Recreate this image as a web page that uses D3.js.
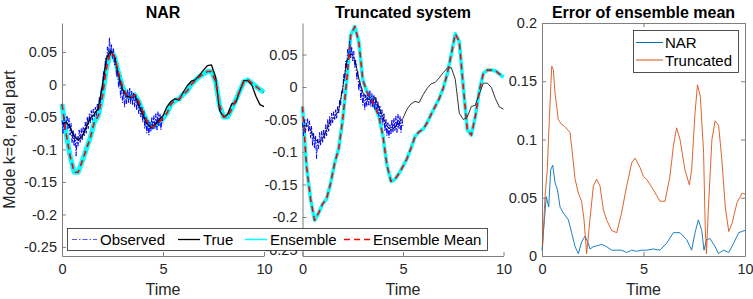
<!DOCTYPE html>
<html>
<head>
<meta charset="utf-8">
<script src="https://cdn.jsdelivr.net/npm/d3@7"></script>
<style>
  body { margin: 0; background: #fff; }
  svg { display: block; }
  text { font-family: "Liberation Sans", Arial, Helvetica, sans-serif; }
</style>
</head>
<body>
<svg id="chart" width="753" height="299"></svg>
<script>
// DATOS ********************************
var time = d3.range(0, 10.0001, 0.2);

var trueVals = [-0.060, -0.058, -0.066, -0.080, -0.085, -0.080, -0.066, -0.052, -0.046, -0.036,
    -0.002, 0.040, 0.052, 0.043, 0.014, -0.008, -0.018, -0.020, -0.016, -0.032,
    -0.046, -0.060, -0.066, -0.062, -0.055, -0.048, -0.034, -0.026, -0.022, -0.024,
    -0.012, -0.002, 0.005, 0.007, 0.014, 0.022, 0.029, 0.030, 0.012, -0.040,
    -0.050, -0.046, -0.030, -0.028, -0.010, 0.006, 0.006, -0.001, -0.018, -0.031, -0.034];

var narMean = [-0.030, -0.075, -0.110, -0.135, -0.135, -0.118, -0.100, -0.082, -0.058, -0.048,
    -0.018, 0.025, 0.050, 0.043, 0.018, -0.004, -0.016, -0.020, -0.016, -0.026,
    -0.042, -0.056, -0.065, -0.064, -0.058, -0.052, -0.044, -0.030, -0.025, -0.022,
    -0.015, -0.010, 0.000, 0.006, 0.012, 0.016, 0.020, 0.020, 0.005, -0.032,
    -0.050, -0.050, -0.038, -0.024, -0.010, 0.004, 0.007, 0.002, -0.003, -0.008, -0.012];

var truncMean = [-0.030, -0.122, -0.172, -0.205, -0.194, -0.180, -0.172, -0.148, -0.117, -0.095,
    -0.050, 0.010, 0.080, 0.093, 0.070, 0.011, -0.007, -0.018, -0.030, -0.045,
    -0.075, -0.120, -0.145, -0.142, -0.133, -0.122, -0.110, -0.094, -0.076, -0.069,
    -0.065, -0.055, -0.042, -0.030, -0.018, -0.002, 0.020, 0.050, 0.082, 0.070,
    0.000, -0.066, -0.074, -0.045, -0.005, 0.021, 0.026, 0.026, 0.025, 0.020, 0.015];

var obsTime = d3.range(0, 5.0001, 0.05);
var obsVals = [-0.055, -0.075, -0.050, -0.070, -0.058, -0.048, -0.068, -0.052, -0.078, -0.060,
    -0.090, -0.070, -0.095, -0.075, -0.110, -0.080, -0.095, -0.070, -0.090, -0.068,
    -0.085, -0.065, -0.080, -0.058, -0.075, -0.050, -0.068, -0.045, -0.060, -0.040,
    -0.055, -0.038, -0.050, -0.035, -0.048, -0.030, -0.040, -0.020, -0.028, -0.005,
    -0.010, 0.020, 0.010, 0.040, 0.030, 0.058, 0.042, 0.072, 0.045, 0.062,
    0.040, 0.055, 0.030, 0.042, 0.012, 0.025, -0.005, 0.010, -0.020, -0.002,
    -0.028, -0.010, -0.035, -0.012, -0.030, -0.008, -0.028, -0.005, -0.030, -0.010,
    -0.032, -0.012, -0.035, -0.015, -0.040, -0.022, -0.045, -0.028, -0.050, -0.035,
    -0.058, -0.040, -0.068, -0.050, -0.075, -0.055, -0.078, -0.058, -0.072, -0.050,
    -0.070, -0.048, -0.068, -0.045, -0.070, -0.042, -0.065, -0.045, -0.070, -0.050, -0.060];

var errNarTime = [0, 0.12, 0.21, 0.33, 0.43, 0.53, 0.64, 0.76, 0.89, 1.05, 1.3, 1.46, 1.63, 1.79, 1.95,
    2.12, 2.28, 2.36, 2.53, 2.77, 2.94, 3.18, 3.43, 3.68, 3.92, 4.17, 4.42, 4.66, 4.9,
    5.15, 5.48, 5.81, 6.14, 6.47, 6.8, 7.13, 7.37, 7.54, 7.7, 7.87, 7.98, 8.1, 8.27,
    8.53, 8.69, 8.94, 9.2, 9.44, 9.69, 10];
var errNarVals = [0.005, 0.031, 0.051, 0.042, 0.074, 0.078, 0.063, 0.057, 0.042, 0.037, 0.031, 0.020, 0.008, 0.002, 0.012,
    0.017, 0.011, 0.006, 0.008, 0.009, 0.010, 0.008, 0.005, 0.005, 0.005, 0.003, 0.005, 0.004, 0.005,
    0.005, 0.006, 0.005, 0.011, 0.020, 0.020, 0.014, 0.005, 0.020, 0.031, 0.022, 0.005, 0.014, 0.015,
    0.008, 0.002, 0.005, 0.003, 0.011, 0.020, 0.022];

var errTruncTime = [0.03, 0.15, 0.26, 0.36, 0.48, 0.56, 0.64, 0.72, 0.8, 0.97, 1.13, 1.38, 1.46, 1.63, 1.79,
    1.95, 2.07, 2.2, 2.36, 2.53, 2.69, 2.86, 3.02, 3.18, 3.43, 3.68, 3.92, 4.17, 4.42, 4.58,
    4.83, 5.0, 5.15, 5.48, 5.81, 6.06, 6.3, 6.47, 6.63, 6.8, 7.04, 7.26, 7.37, 7.54, 7.66,
    7.8, 7.96, 8.04, 8.1, 8.2, 8.37, 8.53, 8.7, 8.86, 9.03, 9.2, 9.36, 9.61, 9.86, 10];
var errTruncVals = [0.008, 0.051, 0.074, 0.117, 0.163, 0.160, 0.140, 0.129, 0.117, 0.113, 0.111, 0.106, 0.094, 0.066, 0.054,
    0.047, 0.031, 0.002, 0.031, 0.060, 0.066, 0.060, 0.040, 0.031, 0.022, 0.020, 0.037, 0.060, 0.080, 0.084,
    0.076, 0.068, 0.066, 0.057, 0.047, 0.047, 0.068, 0.094, 0.110, 0.100, 0.074, 0.061, 0.074, 0.123, 0.147,
    0.137, 0.089, 0.025, 0.002, 0.042, 0.100, 0.116, 0.112, 0.083, 0.042, 0.021, 0.028, 0.046, 0.054, 0.053];

var xTicks = [0, 5, 10];
var stateTicks = [-0.25, -0.2, -0.15, -0.1, -0.05, 0, 0.05];
var errTicks = [0, 0.05, 0.1, 0.15, 0.2];
var seriesNames = ['Observed', 'True', 'Ensemble', 'Ensemble Mean'];
var errNames = ['NAR', 'Truncated'];

// ESTILO ********************************
var axisColor = '#7f7f7f';
var textColor = '#262626';
var cObs = '#0000ff', cTrue = '#000000', cEns = '#00ffff', cMean = '#ff0000';
var cNar = '#0072bd', cTrunc = '#d95319';

var svg = d3.select('#chart');
var top_ = 23, bottom_ = 256;

function fmt(d) { return d === 0 ? '0' : String(+d.toFixed(2)); }

function styleAxis(sel) {
    sel.select('.domain').attr('stroke', axisColor).attr('stroke-width', 1);
    sel.selectAll('.tick line').attr('stroke', axisColor).attr('stroke-width', 1);
    sel.selectAll('.tick text').attr('fill', textColor).attr('font-size', '14.5px')
        .attr('font-family', '"Liberation Sans", Arial, Helvetica, sans-serif');
}

function panel(left, right, yDom, yTicks, title, boxed) {
    var x = d3.scaleLinear().domain([0, 10]).range([left, right]);
    var y = d3.scaleLinear().domain(yDom).range([bottom_, top_]);
    var g = svg.append('g');

    if (boxed) {
        g.append('g').attr('transform', 'translate(0,' + top_ + ')')
            .call(d3.axisTop(x).tickValues(xTicks).tickSize(-4).tickSizeOuter(0).tickFormat(''))
            .call(styleAxis);
        g.append('g').attr('transform', 'translate(' + right + ',0)')
            .call(d3.axisRight(y).tickValues(yTicks).tickSize(-4).tickSizeOuter(0).tickFormat(''))
            .call(styleAxis);
    }
    g.append('g').attr('transform', 'translate(0,' + bottom_ + ')')
        .call(d3.axisBottom(x).tickValues(xTicks).tickSize(-4).tickSizeOuter(0).tickPadding(8).tickFormat(d3.format('d')))
        .call(styleAxis);
    g.append('g').attr('transform', 'translate(' + left + ',0)')
        .call(d3.axisLeft(y).tickValues(yTicks).tickSize(-4).tickSizeOuter(0).tickPadding(5).tickFormat(fmt))
        .call(styleAxis);

    g.append('text')
        .attr('x', (left + right) / 2).attr('y', 18)
        .attr('text-anchor', 'middle').attr('font-size', '16px').attr('font-weight', 'bold')
        .attr('fill', '#000').text(title);
    g.append('text')
        .attr('x', (left + right) / 2).attr('y', 295)
        .attr('text-anchor', 'middle').attr('font-size', '16px')
        .attr('fill', textColor).text('Time');

    var lines = g.append('g');
    return { x: x, y: y, g: lines };
}

function path(p, ts, vs, color, width, dash) {
    var line = d3.line().x(function (d, i) { return p.x(ts[i]); }).y(function (d) { return p.y(d); });
    var el = p.g.append('path').datum(vs)
        .attr('fill', 'none').attr('stroke', color).attr('stroke-width', width)
        .attr('stroke-linejoin', 'round')
        .attr('d', line);
    if (dash) el.attr('stroke-dasharray', dash);
    return el;
}

// PANEL 1: NAR
var p1 = panel(62, 264, [-0.264, 0.0946], stateTicks, 'NAR', false);
path(p1, time, narMean, cEns, 5);
path(p1, obsTime, obsVals, cObs, 1, '5,1.5,1.5,1.5');
path(p1, time, trueVals, cTrue, 1.3);
path(p1, time, narMean, cMean, 1.6, '6,4');

// PANEL 2: TRUNCATED
var p2 = panel(302.5, 503.5, [-0.26, 0.0985], stateTicks, 'Truncated system', false);
path(p2, time, truncMean, cEns, 3.6);
path(p2, obsTime, obsVals, cObs, 1, '5,1.5,1.5,1.5');
path(p2, time, trueVals, cTrue, 0.8);
path(p2, time, truncMean, cMean, 1.6, '6,4');

// PANEL 3: ERROR
var p3 = panel(542, 745, [0, 0.2], errTicks, 'Error of ensemble mean', true);
path(p3, errNarTime, errNarVals, cNar, 0.9);
path(p3, errTruncTime, errTruncVals, cTrunc, 0.9);

// Y LABEL
svg.append('text')
    .attr('transform', 'translate(15,139.5) rotate(-90)')
    .attr('text-anchor', 'middle').attr('font-size', '16px')
    .attr('fill', textColor).text('Mode k=8, real part');

// LEYENDA PANELES 1-2
var leg = svg.append('g');
leg.append('rect').attr('x', 67.5).attr('y', 228.5).attr('width', 420).attr('height', 22)
    .attr('fill', '#fff').attr('stroke', '#262626').attr('stroke-width', 0.8);
var legItems = [
    { x: 72, w: 25, c: '#5555ff', sw: 1, dash: '5,2,1.5,2' },
    { x: 178, w: 22, c: cTrue, sw: 1.3 },
    { x: 245, w: 22, c: cEns, sw: 1.5 },
    { x: 344, w: 26, c: cMean, sw: 1.6, dash: '6,4' }
];
legItems.forEach(function (it, i) {
    var l = leg.append('line').attr('x1', it.x).attr('x2', it.x + it.w).attr('y1', 239.5).attr('y2', 239.5)
        .attr('stroke', it.c).attr('stroke-width', it.sw);
    if (it.dash) l.attr('stroke-dasharray', it.dash);
    leg.append('text').attr('x', it.x + it.w + 3).attr('y', 245)
        .attr('font-size', '15px').attr('fill', '#000').text(seriesNames[i]);
});

// LEYENDA PANEL 3
var leg3 = svg.append('g');
leg3.append('rect').attr('x', 633.5).attr('y', 30.5).attr('width', 105).attr('height', 42)
    .attr('fill', '#fff').attr('stroke', '#262626').attr('stroke-width', 0.8);
[cNar, cTrunc].forEach(function (c, i) {
    var yy = 42.5 + i * 17.5;
    leg3.append('line').attr('x1', 636).attr('x2', 663).attr('y1', yy).attr('y2', yy)
        .attr('stroke', c).attr('stroke-width', 1);
    leg3.append('text').attr('x', 665).attr('y', yy + 5.5)
        .attr('font-size', '15px').attr('fill', '#000').text(errNames[i]);
});
</script>
</body>
</html>
